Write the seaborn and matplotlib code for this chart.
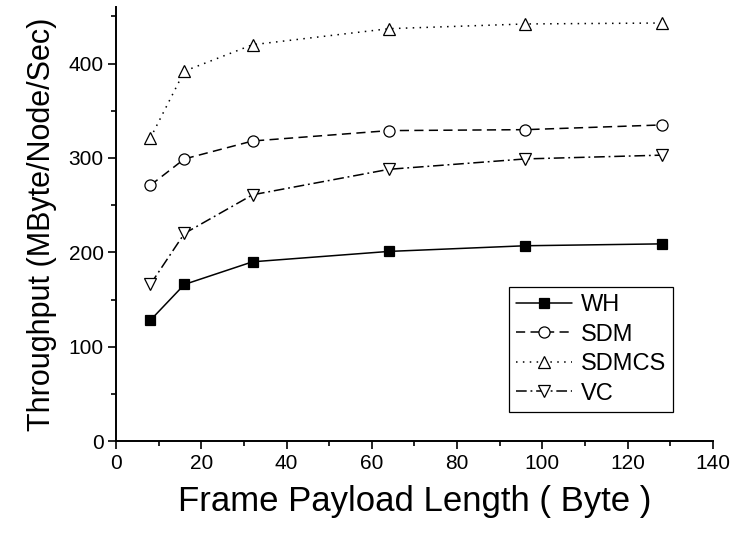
import numpy as np
import pandas as pd
import matplotlib
matplotlib.use("Agg")
import matplotlib.pyplot as plt
from matplotlib.ticker import MultipleLocator
import seaborn as sns

# payload lengths (byte)
payload = [8, 16, 32, 64, 96, 128]

# throughput (MByte/Node/Sec) per scheme
wh = [128, 166, 190, 201, 207, 209]
sdm = [271, 299, 318, 329, 330, 335]
sdmcs = [321, 392, 420, 437, 442, 443]
vc = [166, 220, 261, 288, 299, 303]

schemes = ["WH", "SDM", "SDMCS", "VC"]
values = [wh, sdm, sdmcs, vc]

sns.set_style("ticks")
plt.rcParams["font.family"] = ["Liberation Sans", "DejaVu Sans"]
plt.rcParams["text.color"] = "black"
plt.rcParams["axes.labelcolor"] = "black"

fig = plt.figure(figsize=(7.31, 5.36), dpi=100)
ax = fig.add_axes([0.159, 0.177, 0.816, 0.81])

styles = {
    "WH": dict(marker="s", linestyle="-", markerfacecolor="black", markersize=7.5),
    "SDM": dict(marker="o", linestyle=(0, (6, 3.5)), markerfacecolor="white", markersize=8),
    "SDMCS": dict(marker="^", linestyle=(0, (1, 3.5)), markerfacecolor="white", markersize=9),
    "VC": dict(marker="v", linestyle=(0, (7, 2.5, 1.2, 2.5)), markerfacecolor="white", markersize=9),
}

for name, vals in zip(schemes, values):
    df = pd.DataFrame({"x": payload, "y": vals})
    sns.lineplot(data=df, x="x", y="y", ax=ax, label=name, color="black",
                 linewidth=1.1, markeredgecolor="black", markeredgewidth=0.9,
                 **styles[name])

ax.set_xlim(0, 140)
ax.set_ylim(0, 460)
ax.xaxis.set_major_locator(MultipleLocator(20))
ax.xaxis.set_minor_locator(MultipleLocator(10))
ax.yaxis.set_major_locator(MultipleLocator(100))
ax.yaxis.set_minor_locator(MultipleLocator(50))
ax.tick_params(axis="both", which="major", direction="out", length=5.5, width=1.2,
               pad=3.5, labelsize=15, color="black", labelcolor="black")
ax.tick_params(axis="both", which="minor", direction="out", length=3.5, width=1.2,
               color="black")

for side in ["top", "right"]:
    ax.spines[side].set_visible(False)
for side in ["left", "bottom"]:
    ax.spines[side].set_linewidth(1.4)
    ax.spines[side].set_color("black")

ax.set_xlabel("Frame Payload Length ( Byte )", fontsize=25, labelpad=9)
ax.set_ylabel("Throughput (MByte/Node/Sec)", fontsize=22, labelpad=8)

leg = ax.legend(loc="upper left", bbox_to_anchor=(0.658, 0.355), fontsize=17,
                frameon=True, fancybox=False, edgecolor="black", framealpha=1,
                handlelength=2.4, handletextpad=0.35, borderpad=0.3,
                labelspacing=0.32, borderaxespad=0)
leg.get_frame().set_linewidth(0.9)
for t in leg.get_texts():
    t.set_color("black")

fig.savefig("out.png", dpi=100)
